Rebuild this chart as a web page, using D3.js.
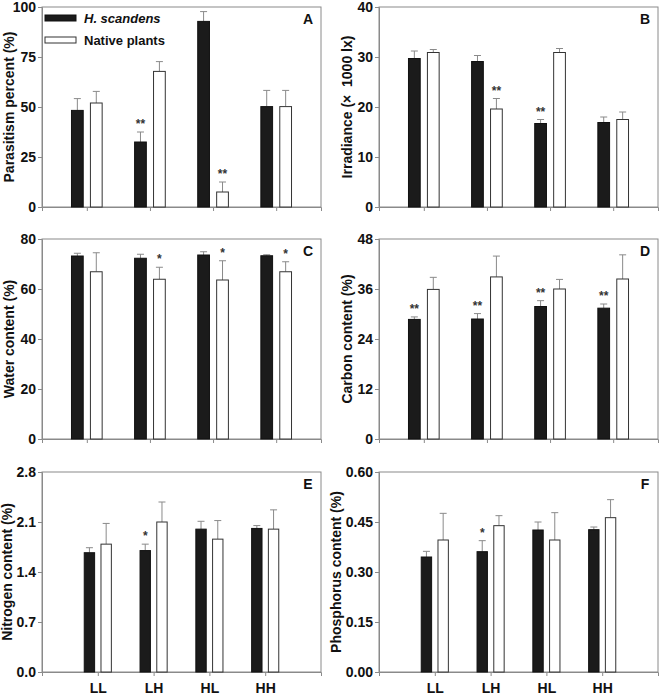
<!DOCTYPE html>
<html>
<head>
<meta charset="utf-8">
<script src="https://cdn.jsdelivr.net/npm/d3@7/dist/d3.min.js"></script>
<style>
html,body{margin:0;padding:0;background:#fff;}
svg{display:block;font-family:"Liberation Sans",Arial,sans-serif;}
</style>
</head>
<body>
<svg id="chart" width="660" height="695"></svg>
<script>
// ---------- data ----------
const groups = ["LL", "LH", "HL", "HH"];
const seriesNames = ["H. scandens", "Native plants"];

const parasitismH = [48.3, 32.5, 92.8, 50.2];
const parasitismHErr = [5.9, 5.0, 4.9, 8.1];
const parasitismN = [52.0, 67.8, 7.5, 50.2];
const parasitismNErr = [5.8, 4.9, 5.0, 8.1];
const parasitismHSig = ["", "**", "", ""];
const parasitismNSig = ["", "", "**", ""];
const parasitismTicks = [0, 25, 50, 75, 100];

const irradianceH = [29.7, 29.1, 16.7, 16.9];
const irradianceHErr = [1.5, 1.2, 0.8, 1.1];
const irradianceN = [30.9, 19.6, 30.9, 17.5];
const irradianceNErr = [0.6, 2.1, 0.8, 1.5];
const irradianceHSig = ["", "", "**", ""];
const irradianceNSig = ["", "**", "", ""];
const irradianceTicks = [0, 10, 20, 30, 40];

const waterH = [73.2, 72.3, 73.6, 73.3];
const waterHErr = [1.1, 1.6, 1.3, 0.4];
const waterN = [66.9, 63.9, 63.6, 66.9];
const waterNErr = [7.6, 4.8, 7.7, 4.0];
const waterHSig = ["", "", "", ""];
const waterNSig = ["", "*", "*", "*"];
const waterTicks = [0, 20, 40, 60, 80];

const carbonH = [28.7, 28.8, 31.8, 31.4];
const carbonHErr = [0.6, 1.3, 1.4, 1.0];
const carbonN = [35.9, 38.9, 36.0, 38.4];
const carbonNErr = [2.9, 5.0, 2.3, 5.8];
const carbonHSig = ["**", "**", "**", "**"];
const carbonNSig = ["", "", "", ""];
const carbonTicks = [0, 12, 24, 36, 48];

const nitrogenH = [1.67, 1.70, 2.00, 2.01];
const nitrogenHErr = [0.07, 0.09, 0.11, 0.04];
const nitrogenN = [1.79, 2.10, 1.86, 2.00];
const nitrogenNErr = [0.29, 0.28, 0.26, 0.27];
const nitrogenHSig = ["", "*", "", ""];
const nitrogenNSig = ["", "", "", ""];
const nitrogenTicks = [0, 0.7, 1.4, 2.1, 2.8];

const phosphorusH = [0.345, 0.361, 0.426, 0.427];
const phosphorusHErr = [0.017, 0.033, 0.024, 0.008];
const phosphorusN = [0.396, 0.439, 0.396, 0.463];
const phosphorusNErr = [0.080, 0.030, 0.082, 0.054];
const phosphorusHSig = ["", "*", "", ""];
const phosphorusNSig = ["", "", "", ""];
const phosphorusTicks = [0, 0.15, 0.30, 0.45, 0.60];

// ---------- panels ----------
const panels = [
  {id:"A", title:"Parasitism percent (%)", h:parasitismH, he:parasitismHErr, n:parasitismN, ne:parasitismNErr, hs:parasitismHSig, ns:parasitismNSig, ticks:parasitismTicks, fmt:d3.format("d"), col:0, row:0, pad:0.71, titleOff:33, legend:true, catLabels:false},
  {id:"B", title:"Irradiance (×\u00a0\u00a01000 lx)", h:irradianceH, he:irradianceHErr, n:irradianceN, ne:irradianceNErr, hs:irradianceHSig, ns:irradianceNSig, ticks:irradianceTicks, fmt:d3.format("d"), col:1, row:0, pad:0.71, titleOff:32, legend:false, catLabels:false},
  {id:"C", title:"Water content (%)", h:waterH, he:waterHErr, n:waterN, ne:waterNErr, hs:waterHSig, ns:waterNSig, ticks:waterTicks, fmt:d3.format("d"), col:0, row:1, pad:0.71, titleOff:33, legend:false, catLabels:false},
  {id:"D", title:"Carbon content (%)", h:carbonH, he:carbonHErr, n:carbonN, ne:carbonNErr, hs:carbonHSig, ns:carbonNSig, ticks:carbonTicks, fmt:d3.format("d"), col:1, row:1, pad:0.71, titleOff:32, legend:false, catLabels:false},
  {id:"E", title:"Nitrogen content (%)", h:nitrogenH, he:nitrogenHErr, n:nitrogenN, ne:nitrogenNErr, hs:nitrogenHSig, ns:nitrogenNSig, ticks:nitrogenTicks, fmt:d3.format(".1f"), col:0, row:2, pad:1, titleOff:35, legend:false, catLabels:true},
  {id:"F", title:"Phosphorus content (%)", h:phosphorusH, he:phosphorusHErr, n:phosphorusN, ne:phosphorusNErr, hs:phosphorusHSig, ns:phosphorusNSig, ticks:phosphorusTicks, fmt:d3.format(".2f"), col:1, row:2, pad:1, titleOff:43, legend:false, catLabels:true}
];

const colX = [42, 379];
const rowY = [7, 239, 472];
const W = 279, H = 200;
const frameColor = "#8a8a8a";
const errColor = "#8a8a8a";
const blackFill = "#1b1b1b";
const fontFam = "'Liberation Sans', Arial, sans-serif";

const svg = d3.select("#chart");

panels.forEach(p => {
  const g = svg.append("g").attr("transform", `translate(${colX[p.col]},${rowY[p.row]})`);
  const x = d3.scalePoint().domain(groups).range([0, W]).padding(p.pad);
  const y = d3.scaleLinear().domain([p.ticks[0], p.ticks[p.ticks.length - 1]]).range([H, 0]);
  const step = x.step();
  const bw = step * 0.186;
  const off = step * 0.15;

  // frame
  g.append("rect").attr("x", 0).attr("y", 0).attr("width", W).attr("height", H)
    .attr("fill", "none").attr("stroke", frameColor).attr("stroke-width", 1);

  // y axis
  const ya = g.append("g").call(d3.axisLeft(y).tickValues(p.ticks).tickFormat(p.fmt).tickSize(4).tickPadding(2));
  ya.select(".domain").attr("stroke", frameColor);
  ya.selectAll(".tick line").attr("stroke", frameColor);
  ya.selectAll(".tick text").attr("fill", "#111").style("font-size", "14px").style("font-weight", "bold")
    .style("font-family", fontFam);

  // x axis
  const xa = g.append("g").attr("transform", `translate(0,${H})`)
    .call(d3.axisBottom(x).tickSize(4).tickPadding(7).tickFormat(p.catLabels ? (d => d) : (() => "")));
  xa.select(".domain").attr("stroke", frameColor);
  xa.selectAll(".tick line").attr("stroke", frameColor);
  xa.selectAll(".tick text").attr("fill", "#111").style("font-size", "14px").style("font-weight", "bold")
    .style("font-family", fontFam);

  // bars
  const data = groups.map((gname, i) => [
    {g:gname, s:0, v:p.h[i], e:p.he[i], sig:p.hs[i]},
    {g:gname, s:1, v:p.n[i], e:p.ne[i], sig:p.ns[i]}
  ]).flat();

  const cx = d => x(d.g) + (d.s === 0 ? -off : off);

  g.selectAll(".err").data(data).enter().append("line")
    .attr("x1", cx).attr("x2", cx)
    .attr("y1", d => y(d.v)).attr("y2", d => y(d.v + d.e))
    .attr("stroke", errColor).attr("stroke-width", 1);
  g.selectAll(".cap").data(data).enter().append("line")
    .attr("x1", d => cx(d) - 3.5).attr("x2", d => cx(d) + 3.5)
    .attr("y1", d => y(d.v + d.e)).attr("y2", d => y(d.v + d.e))
    .attr("stroke", errColor).attr("stroke-width", 1);

  g.selectAll(".bar").data(data).enter().append("rect")
    .attr("x", d => cx(d) - bw / 2).attr("width", bw)
    .attr("y", d => y(d.v)).attr("height", d => y(0) - y(d.v))
    .attr("fill", d => d.s === 0 ? blackFill : "#fff")
    .attr("stroke", d => d.s === 0 ? "#111" : "#333").attr("stroke-width", 1);

  g.selectAll(".sig").data(data.filter(d => d.sig)).enter().append("text")
    .attr("x", cx).attr("y", d => y(d.v + d.e) - 4)
    .attr("text-anchor", "middle").attr("fill", "#333")
    .style("font-size", "12px").style("font-weight", "bold")
    .text(d => d.sig);

  // panel letter
  g.append("text").attr("x", W - 13).attr("y", 17).attr("text-anchor", "middle")
    .attr("fill", "#111").style("font-size", "14px").style("font-weight", "bold").text(p.id);

  // y title
  g.append("text").attr("transform", `translate(${-p.titleOff},${H / 2}) rotate(-90)`)
    .attr("text-anchor", "middle").attr("dominant-baseline", "central")
    .attr("fill", "#111").style("font-size", "14px").style("font-weight", "bold").text(p.title);

  // legend
  if (p.legend) {
    const lg = g.append("g").attr("transform", "translate(3,8)");
    seriesNames.forEach((name, i) => {
      lg.append("rect").attr("x", 0).attr("y", i * 22).attr("width", 31).attr("height", 6)
        .attr("fill", i === 0 ? blackFill : "#fff").attr("stroke", i === 0 ? "#111" : "#333").attr("stroke-width", 1);
      lg.append("text").attr("x", 39).attr("y", i * 22 + 3).attr("dominant-baseline", "central")
        .attr("fill", "#111").style("font-size", "13px").style("font-weight", "bold")
        .style("font-style", i === 0 ? "italic" : "normal").text(name);
    });
  }
});
</script>
</body>
</html>
